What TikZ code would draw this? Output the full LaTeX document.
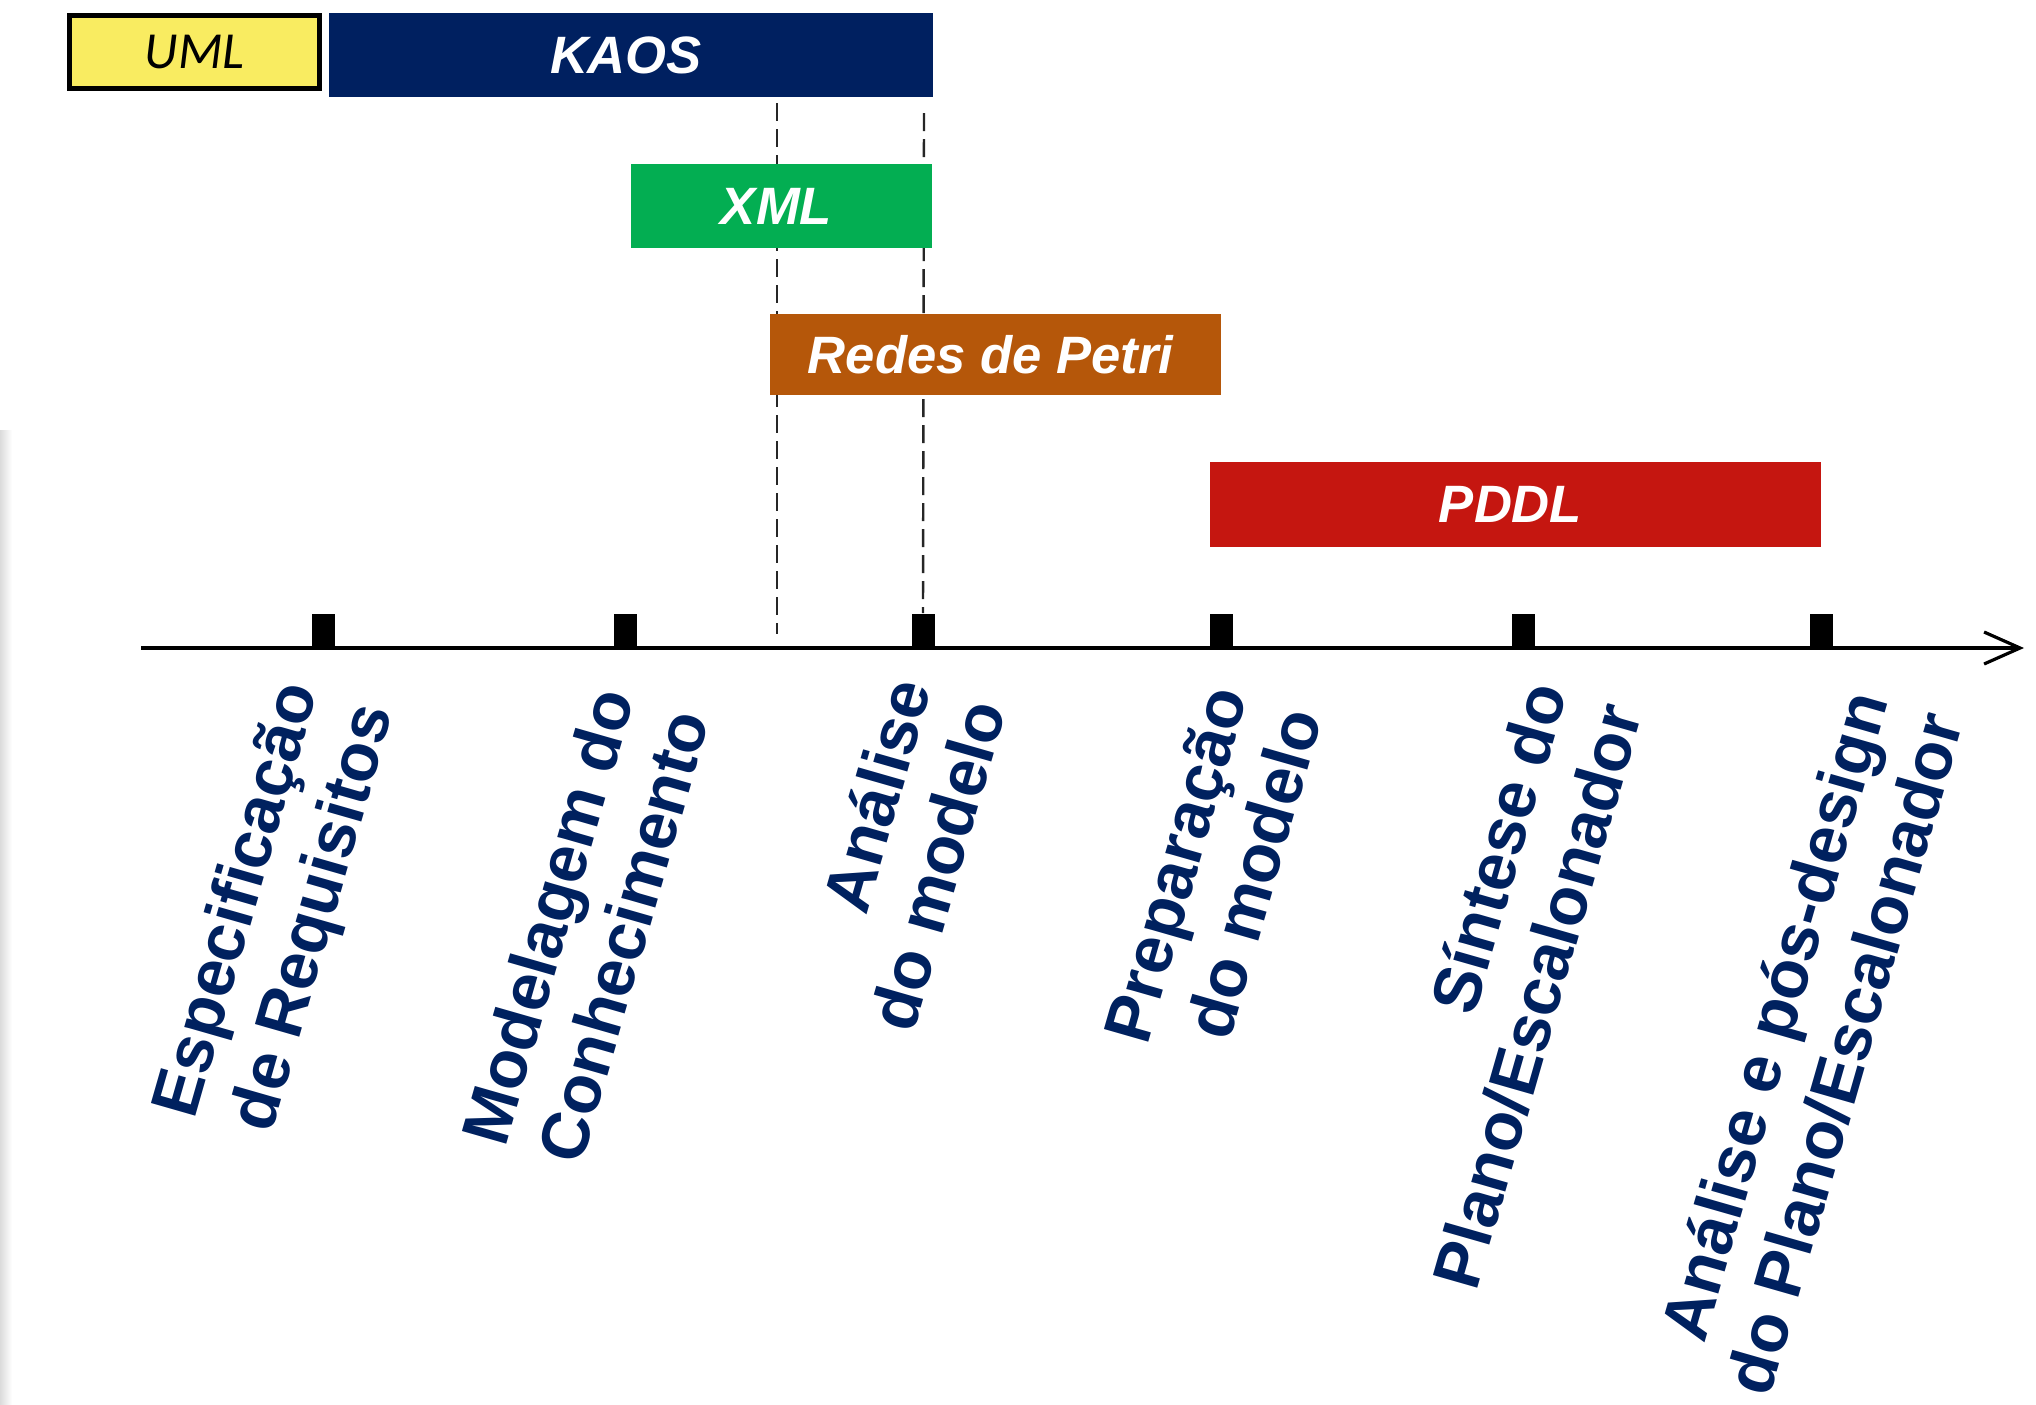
\documentclass[tikz,border=0pt]{standalone}
\usepackage{fontspec}
\setmainfont{Liberation Sans}
\newfontfamily\umlfont{Carlito}
\usetikzlibrary{calc,arrows.meta}

\definecolor{navy}{HTML}{00215F}
\definecolor{kaosblue}{HTML}{002060}
\definecolor{xmlgreen}{HTML}{03AE52}
\definecolor{petribrown}{HTML}{B5570A}
\definecolor{pddlred}{HTML}{C51610}
\definecolor{umlyellow}{HTML}{F9EC61}

\tikzset{
  bar/.style={rectangle, inner sep=0pt, text=white,
    font=\fontsize{26.3}{30}\selectfont\bfseries\itshape,
    execute at begin node=\hspace*{-5pt}},
  tickmark/.style={rectangle, fill=black, inner sep=0pt,
    minimum width=11.5pt, minimum height=17pt, anchor=south},
  phase/.style={rotate=74, anchor=base east, inner sep=0pt, text=navy,
    font=\fontsize{33.5}{40}\selectfont\bfseries},
  guide/.style={draw=black!85, line width=1.2pt, dash pattern=on 9pt off 4pt},
}

\begin{document}
\begin{tikzpicture}[x=0.5pt,y=-0.5pt]
  \useasboundingbox (0,0) rectangle (2036,1404);
  \fill[white] (0,0) rectangle (2036,1404);
  % soft shadow along the left edge
  \shade[left color=black!14, right color=white] (0,430) rectangle (12,1404);

  % timeline axis and its ticks
  \coordinate (ax0) at (141,648);
  \coordinate (ax1) at (2024,648);
  \draw[line width=2.4pt, -{Straight Barb[length=18pt,width=16pt,line width=1.6pt]}] (ax0) -- (ax1);
  \node[tickmark] (t1) at (323.5,648) {};
  \node[tickmark] (t2) at (625,648) {};
  \node[tickmark] (t3) at (923,648) {};
  \node[tickmark] (t4) at (1221.5,648) {};
  \node[tickmark] (t5) at (1523,648) {};
  \node[tickmark] (t6) at (1821.5,648) {};

  % dashed guides below KAOS
  \coordinate (gl1) at (777,103);
  \coordinate (gl2) at (777,634);
  \coordinate (gr1) at (924,113);
  \draw[guide] (gl1) -- (gl2);
  \draw[guide] (gr1) -- (t3.north);

  % notation bars
  \node[draw=black, line width=2.5pt, fill=umlyellow, inner sep=0pt,
        minimum width=125pt, minimum height=36.5pt,
        font=\umlfont\itshape\fontsize{26}{30}\selectfont] (uml) at (194.5,52) {UML};
  \node[bar, fill=kaosblue, minimum width=302pt, minimum height=42pt] (kaos) at (631,55) {KAOS};
  \node[bar, fill=xmlgreen, minimum width=150.5pt, minimum height=42pt] (xml) at (781.5,206) {XML};
  \node[bar, fill=petribrown, minimum width=225.5pt, minimum height=40.5pt] (petri) at (995.5,354.5) {Redes de Petri};
  \node[bar, fill=pddlred, minimum width=305.5pt, minimum height=42.5pt] (pddl) at (1515.5,504.5) {PDDL};

  % phase labels, two lines each
  \node[phase] (p1a) at (318,690) {Especificação};
  \node[phase] (p1b) at ($(p1a.base east)+(16:78)$) {de Requisitos};
  \node[phase] (p2a) at (635,697) {Modelagem do};
  \node[phase] (p2b) at ($(p2a.base east)+(16:78)$) {Conhecimento};
  \node[phase] (p3a) at (932,687) {Análise};
  \node[phase] (p3b) at ($(p3a.base east)+(16:78)$) {do modelo};
  \node[phase] (p4a) at (1248,695) {Preparação};
  \node[phase] (p4b) at ($(p4a.base east)+(16:78)$) {do modelo};
  \node[phase] (p5a) at (1568,691) {Síntese do};
  \node[phase] (p5b) at ($(p5a.base east)+(16:78)$) {Plano/Escalonador};
  \node[phase] (p6a) at (1889,700) {Análise e pós-design};
  \node[phase] (p6b) at ($(p6a.base east)+(16:78)$) {do Plano/Escalonador};
\end{tikzpicture}
\end{document}
